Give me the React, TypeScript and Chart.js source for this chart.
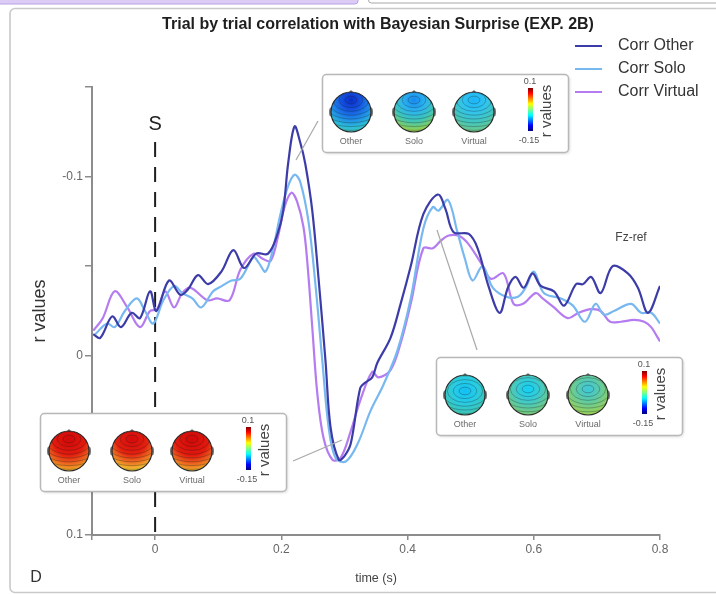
import React, { useEffect, useRef } from 'react';
import { Chart, registerables } from 'chart.js';
Chart.register(...registerables);

const FONT = '"Liberation Sans", Arial, Helvetica, sans-serif';

// ---- data (time in s, r values) ----
const seriesNames = ['Corr Other', 'Corr Solo', 'Corr Virtual'];
const seriesColors = ['#3c3ca8', '#78b8f0', '#b47cf0'];

const otherT = [-0.098, -0.087, -0.068, -0.054, -0.037, -0.024, -0.008, 0.002, 0.022, 0.040, 0.052, 0.068, 0.084, 0.105, 0.124, 0.141, 0.160, 0.179, 0.194, 0.203, 0.211, 0.221, 0.230, 0.238, 0.249, 0.259, 0.270, 0.278, 0.291, 0.300, 0.310, 0.325, 0.333, 0.344, 0.352, 0.373, 0.389, 0.405, 0.425, 0.448, 0.460, 0.473, 0.497, 0.511, 0.529, 0.546, 0.559, 0.571, 0.584, 0.598, 0.611, 0.632, 0.648, 0.667, 0.678, 0.691, 0.706, 0.725, 0.749, 0.765, 0.781, 0.800];
const otherR = [-0.012, -0.010, -0.022, -0.016, -0.024, -0.021, -0.036, -0.025, -0.042, -0.034, -0.037, -0.045, -0.040, -0.047, -0.059, -0.049, -0.057, -0.057, -0.068, -0.081, -0.108, -0.128, -0.119, -0.107, -0.081, -0.043, 0.003, 0.040, 0.058, 0.056, 0.049, 0.018, 0.015, 0.012, 0.004, -0.010, -0.029, -0.050, -0.079, -0.090, -0.082, -0.069, -0.068, -0.060, -0.038, -0.024, -0.038, -0.044, -0.038, -0.046, -0.039, -0.036, -0.028, -0.040, -0.040, -0.044, -0.035, -0.050, -0.046, -0.038, -0.024, -0.039];

const soloT = [-0.095, -0.076, -0.064, -0.048, -0.029, -0.016, -0.003, 0.013, 0.030, 0.043, 0.059, 0.073, 0.092, 0.106, 0.121, 0.135, 0.156, 0.164, 0.175, 0.187, 0.198, 0.210, 0.221, 0.230, 0.243, 0.254, 0.265, 0.275, 0.286, 0.302, 0.321, 0.341, 0.362, 0.384, 0.405, 0.425, 0.440, 0.449, 0.464, 0.479, 0.491, 0.503, 0.519, 0.535, 0.556, 0.575, 0.587, 0.600, 0.616, 0.643, 0.662, 0.681, 0.698, 0.711, 0.727, 0.754, 0.770, 0.786, 0.800];
const soloR = [-0.012, -0.018, -0.016, -0.025, -0.032, -0.025, -0.018, -0.031, -0.039, -0.035, -0.032, -0.027, -0.036, -0.039, -0.042, -0.043, -0.055, -0.052, -0.047, -0.060, -0.078, -0.094, -0.101, -0.097, -0.075, -0.040, 0.003, 0.040, 0.057, 0.059, 0.049, 0.031, 0.016, -0.003, -0.032, -0.071, -0.083, -0.081, -0.087, -0.069, -0.054, -0.042, -0.050, -0.038, -0.033, -0.033, -0.038, -0.047, -0.035, -0.032, -0.028, -0.019, -0.029, -0.023, -0.025, -0.029, -0.024, -0.024, -0.018];

const virtualT = [-0.098, -0.083, -0.064, -0.044, -0.024, -0.008, 0.003, 0.016, 0.030, 0.043, 0.056, 0.083, 0.098, 0.118, 0.135, 0.156, 0.171, 0.183, 0.195, 0.205, 0.216, 0.225, 0.235, 0.241, 0.249, 0.257, 0.267, 0.281, 0.294, 0.310, 0.325, 0.344, 0.354, 0.373, 0.389, 0.405, 0.425, 0.440, 0.452, 0.464, 0.481, 0.495, 0.516, 0.532, 0.552, 0.568, 0.583, 0.603, 0.614, 0.632, 0.654, 0.671, 0.691, 0.706, 0.721, 0.738, 0.759, 0.775, 0.786, 0.795, 0.800];
const virtualR = [-0.014, -0.021, -0.036, -0.027, -0.016, -0.025, -0.026, -0.036, -0.027, -0.035, -0.038, -0.031, -0.032, -0.031, -0.048, -0.057, -0.054, -0.053, -0.067, -0.083, -0.091, -0.086, -0.072, -0.053, -0.016, 0.021, 0.046, 0.058, 0.057, 0.042, 0.025, 0.009, 0.012, 0.008, -0.007, -0.029, -0.060, -0.060, -0.064, -0.067, -0.067, -0.063, -0.052, -0.043, -0.046, -0.029, -0.029, -0.035, -0.032, -0.027, -0.021, -0.024, -0.026, -0.025, -0.019, -0.019, -0.020, -0.019, -0.016, -0.011, -0.008];

const xTicks = [-0.1, 0, 0.2, 0.4, 0.6, 0.8];
const xTickLabels = ['', '0', '0.2', '0.4', '0.6', '0.8'];
const yTicks = [-0.15, -0.1, -0.05, 0, 0.05, 0.1];
const yTickLabels = ['', '-0.1', '', '0', '', '0.1'];

const titleText = 'Trial by trial correlation with Bayesian Surprise (EXP. 2B)';
const headLabels = ['Other', 'Solo', 'Virtual'];
const cbarTop = '0.1';
const cbarBottom = '-0.15';

const labelFor = (ticks: number[], labels: string[], v: number) => {
  const i = ticks.findIndex((t) => Math.abs(t - v) < 1e-9);
  return i >= 0 ? labels[i] : '';
};

type Stops = [number, string][];
interface HeadStyle { stops: Stops; focus: number; }

const topHeads: HeadStyle[] = [
  { focus: -0.6, stops: [[0, '#0a2cc4'], [0.25, '#1450e0'], [0.5, '#1e88e8'], [0.72, '#2cbcd8'], [1, '#58cc98']] },
  { focus: -0.6, stops: [[0, '#1888f0'], [0.3, '#2cb4f0'], [0.55, '#3ec6b8'], [0.78, '#8ccf58'], [1, '#c6dc3a']] },
  { focus: -0.6, stops: [[0, '#1cb4f8'], [0.3, '#30c4f0'], [0.58, '#42c6c0'], [0.8, '#68c890'], [1, '#98d060']] },
];
const leftHeads: HeadStyle[] = [
  { focus: -0.6, stops: [[0, '#d00808'], [0.42, '#e21a0e'], [0.62, '#ec5a1c'], [0.82, '#f0a828'], [1, '#e8d838']] },
  { focus: -0.6, stops: [[0, '#d40a0a'], [0.4, '#e42010'], [0.6, '#ee6a20'], [0.8, '#f2c030'], [1, '#dce640']] },
  { focus: -0.6, stops: [[0, '#d00808'], [0.44, '#e21a0e'], [0.64, '#ec601e'], [0.84, '#f0b02a'], [1, '#e8d838']] },
];
const rightHeads: HeadStyle[] = [
  { focus: -0.2, stops: [[0, '#10c0f4'], [0.3, '#28cce6'], [0.6, '#3ec4b4'], [1, '#50c08c']] },
  { focus: -0.3, stops: [[0, '#10d2f8'], [0.3, '#3ccad0'], [0.62, '#70c884'], [1, '#b4d840']] },
  { focus: -0.3, stops: [[0, '#3cc8dc'], [0.3, '#5ccaa8'], [0.62, '#92d060'], [1, '#c6da30']] },
];

function roundRect(ctx: CanvasRenderingContext2D, x: number, y: number, w: number, h: number, r: number) {
  ctx.beginPath();
  ctx.moveTo(x + r, y);
  ctx.arcTo(x + w, y, x + w, y + h, r);
  ctx.arcTo(x + w, y + h, x, y + h, r);
  ctx.arcTo(x, y + h, x, y, r);
  ctx.arcTo(x, y, x + w, y, r);
  ctx.closePath();
}

function drawHead(ctx: CanvasRenderingContext2D, cx: number, cy: number, r: number, h: HeadStyle) {
  ctx.save();
  ctx.fillStyle = '#777';
  ctx.beginPath(); ctx.ellipse(cx - r, cy, 2, 4.5, 0, 0, Math.PI * 2); ctx.fill();
  ctx.beginPath(); ctx.ellipse(cx + r, cy, 2, 4.5, 0, 0, Math.PI * 2); ctx.fill();
  ctx.beginPath(); ctx.moveTo(cx - 3, cy - r + 1); ctx.lineTo(cx, cy - r - 2); ctx.lineTo(cx + 3, cy - r + 1); ctx.closePath(); ctx.fill();
  ctx.beginPath(); ctx.arc(cx, cy, r, 0, Math.PI * 2); ctx.clip();
  const fx = cx, fy = cy + h.focus * r;
  const g = ctx.createRadialGradient(fx, fy, 0, fx, fy, 1.9 * r);
  h.stops.forEach(([o, c]) => g.addColorStop(o, c));
  ctx.fillStyle = g;
  ctx.fillRect(cx - r - 2, cy - r - 2, 2 * r + 4, 2 * r + 4);
  ctx.strokeStyle = 'rgba(20,30,30,0.42)';
  ctx.lineWidth = 0.7;
  for (let k = 1; k <= 10; k++) {
    const ry = k * 0.19 * r;
    ctx.beginPath();
    ctx.ellipse(fx, fy, ry * 1.55, ry, 0, 0, Math.PI * 2);
    ctx.stroke();
  }
  ctx.restore();
  ctx.save();
  ctx.strokeStyle = '#2a2a2a';
  ctx.lineWidth = 1.2;
  ctx.beginPath(); ctx.arc(cx, cy, r, 0, Math.PI * 2); ctx.stroke();
  ctx.restore();
}

const headOffsets = [29, 92, 152];

function drawInset(ctx: CanvasRenderingContext2D, bx: number, by: number, heads: HeadStyle[]) {
  const w = 246, h = 78;
  ctx.save();
  ctx.shadowColor = 'rgba(0,0,0,0.18)';
  ctx.shadowBlur = 3;
  ctx.shadowOffsetX = 1; ctx.shadowOffsetY = 1;
  roundRect(ctx, bx + 0.5, by + 0.5, w, h, 4);
  ctx.fillStyle = '#ffffff';
  ctx.fill();
  ctx.restore();
  ctx.save();
  roundRect(ctx, bx + 0.5, by + 0.5, w, h, 4);
  ctx.strokeStyle = '#b8b8b8';
  ctx.lineWidth = 1.5;
  ctx.stroke();
  heads.forEach((hs, i) => drawHead(ctx, bx + headOffsets[i], by + 38, 20, hs));
  ctx.fillStyle = '#6a6a6a';
  ctx.font = `9px ${FONT}`;
  ctx.textAlign = 'center';
  ctx.textBaseline = 'middle';
  headLabels.forEach((l, i) => ctx.fillText(l, bx + headOffsets[i], by + 68));
  const g = ctx.createLinearGradient(0, by + 14, 0, by + 57);
  const jet: Stops = [[0, '#7f0000'], [0.12, '#ff0000'], [0.37, '#ffff00'], [0.5, '#80ff80'], [0.63, '#00ffff'], [0.87, '#0000ff'], [1, '#00007f']];
  jet.forEach(([o, c]) => g.addColorStop(o, c));
  ctx.fillStyle = g;
  ctx.fillRect(bx + 206, by + 14, 5, 43);
  ctx.fillStyle = '#555';
  ctx.fillText(cbarTop, bx + 208, by + 8);
  ctx.fillText(cbarBottom, bx + 207, by + 67);
  ctx.save();
  ctx.translate(bx + 225, by + 37);
  ctx.rotate(-Math.PI / 2);
  ctx.font = `15px ${FONT}`;
  ctx.fillStyle = '#444';
  ctx.fillText('r values', 0, 0);
  ctx.restore();
  ctx.restore();
}

function line(ctx: CanvasRenderingContext2D, x1: number, y1: number, x2: number, y2: number) {
  ctx.beginPath(); ctx.moveTo(x1, y1); ctx.lineTo(x2, y2); ctx.stroke();
}

const overlay = {
  id: 'overlay',
  beforeDraw(chart: any) {
    const ctx: CanvasRenderingContext2D = chart.ctx;
    ctx.save();
    ctx.fillStyle = '#fff';
    ctx.fillRect(0, 0, chart.width, chart.height);
    roundRect(ctx, -6, -6, 364, 10, 3);
    ctx.fillStyle = '#dccbf4';
    ctx.fill();
    ctx.strokeStyle = '#b9a2e6';
    ctx.lineWidth = 1;
    ctx.stroke();
    roundRect(ctx, 368.5, -6, 360, 9, 3);
    ctx.strokeStyle = '#a8a8a8';
    ctx.stroke();
    roundRect(ctx, 10, 8.5, 716, 584, 5);
    ctx.strokeStyle = '#c9c9c9';
    ctx.lineWidth = 1.6;
    ctx.stroke();
    ctx.restore();
  },
  beforeDatasetsDraw(chart: any) {
    const ctx: CanvasRenderingContext2D = chart.ctx;
    const x0 = chart.scales.x.getPixelForValue(0);
    const area = chart.chartArea;
    ctx.save();
    ctx.strokeStyle = '#1e1e1e';
    ctx.lineWidth = 2;
    ctx.setLineDash([15, 10]);
    line(ctx, x0, area.top + 55, x0, area.bottom);
    ctx.setLineDash([]);
    ctx.fillStyle = '#222';
    ctx.font = `20px ${FONT}`;
    ctx.textAlign = 'center';
    ctx.textBaseline = 'middle';
    ctx.fillText('S', x0, area.top + 37);
    ctx.restore();
  },
  afterDraw(chart: any) {
    const ctx: CanvasRenderingContext2D = chart.ctx;
    const area = chart.chartArea;
    ctx.save();
    ctx.textAlign = 'center';
    ctx.textBaseline = 'middle';
    ctx.fillStyle = '#1e1e1e';
    ctx.font = `bold 16px ${FONT}`;
    ctx.fillText(titleText, 378, 25);
    ctx.fillStyle = '#333';
    ctx.font = `18px ${FONT}`;
    ctx.save();
    ctx.translate(40, (area.top + area.bottom) / 2);
    ctx.rotate(-Math.PI / 2);
    ctx.fillText('r values', 0, 0);
    ctx.restore();
    ctx.font = `12.5px ${FONT}`;
    ctx.fillStyle = '#444';
    ctx.fillText('time (s)', (area.left + area.right) / 2, 579);
    ctx.font = `16px ${FONT}`;
    ctx.fillStyle = '#333';
    ctx.fillText('D', 36, 578);
    ctx.font = `12px ${FONT}`;
    ctx.fillStyle = '#444';
    ctx.fillText('Fz-ref', 631, 238);
    ctx.textAlign = 'left';
    ctx.font = `16px ${FONT}`;
    chart.data.datasets.forEach((ds: any, i: number) => {
      const y = 46 + i * 23;
      ctx.strokeStyle = ds.borderColor;
      ctx.lineWidth = 2;
      line(ctx, 575, y, 602, y);
      ctx.fillStyle = '#333';
      ctx.fillText(ds.label, 618, y);
    });
    ctx.strokeStyle = '#a8a8a8';
    ctx.lineWidth = 1.2;
    line(ctx, 318, 121, 296, 160);
    line(ctx, 293, 461, 342, 440);
    line(ctx, 437, 230, 477, 350);
    ctx.restore();
    drawInset(ctx, 322, 74, topHeads);
    drawInset(ctx, 40, 413, leftHeads);
    drawInset(ctx, 436, 357, rightHeads);
  },
};

export default function App() {
  const ref = useRef<HTMLCanvasElement | null>(null);
  useEffect(() => {
    if (!ref.current) return;
    const mk = (t: number[], r: number[]) => t.map((x, i) => ({ x, y: r[i] }));
    const series = [mk(otherT, otherR), mk(soloT, soloR), mk(virtualT, virtualR)];
    const chart = new Chart(ref.current, {
      type: 'line',
      data: {
        datasets: series.map((d, i) => ({
          label: seriesNames[i],
          data: d,
          borderColor: seriesColors[i],
          backgroundColor: seriesColors[i],
          borderWidth: 2.2,
          pointRadius: 0,
          fill: false,
          tension: 0.35,
        })),
      },
      options: {
        responsive: false,
        animation: false,
        layout: { padding: { left: 0, right: 56, top: 87, bottom: 0 } },
        plugins: { legend: { display: false }, title: { display: false }, tooltip: { enabled: false } },
        scales: {
          x: {
            type: 'linear',
            min: -0.1,
            max: 0.8,
            afterBuildTicks: (s: any) => { s.ticks = xTicks.map((v) => ({ value: v })); },
            afterFit: (s: any) => { s.height = 59; },
            ticks: {
              callback: (v: any) => labelFor(xTicks, xTickLabels, Number(v)),
              font: { family: FONT, size: 12 },
              color: '#666',
              padding: 2,
              maxRotation: 0,
              autoSkip: false,
            },
            grid: { display: true, drawOnChartArea: false, drawTicks: true, tickLength: 5, color: '#8c8c8c', lineWidth: 1.5 },
            border: { display: true, color: '#8c8c8c', width: 2 },
          },
          y: {
            type: 'linear',
            min: -0.15,
            max: 0.1,
            reverse: true,
            afterBuildTicks: (s: any) => { s.ticks = yTicks.map((v) => ({ value: v })); },
            afterFit: (s: any) => { s.width = 92; },
            ticks: {
              callback: (v: any) => labelFor(yTicks, yTickLabels, Number(v)),
              font: { family: FONT, size: 12 },
              color: '#666',
              padding: 2,
              autoSkip: false,
            },
            grid: { display: true, drawOnChartArea: false, drawTicks: true, tickLength: 7, color: '#8c8c8c', lineWidth: 1.5 },
            border: { display: true, color: '#8c8c8c', width: 2 },
          },
        },
      },
      plugins: [overlay],
    });
    return () => chart.destroy();
  }, []);
  return (
    <div style={{ position: 'absolute', left: 0, top: 0, width: 716, height: 594, background: '#fff' }}>
      <canvas ref={ref} width={716} height={594} style={{ display: 'block', width: 716, height: 594 }} />
    </div>
  );
}
